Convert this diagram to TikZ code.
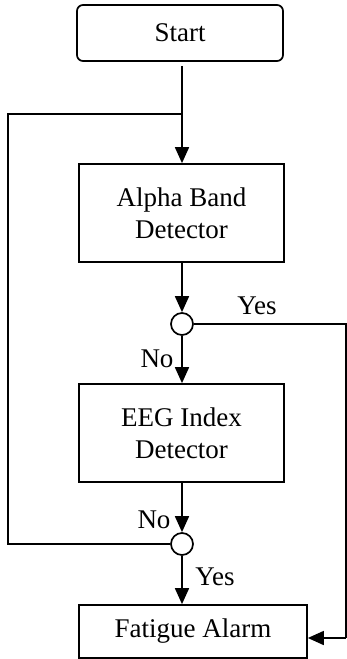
\documentclass[tikz,border=0pt]{standalone}
\usepackage{fontspec}
\setmainfont{Liberation Serif}
\usetikzlibrary{arrows.meta,positioning}
\begin{document}
\begin{tikzpicture}[x=1pt,y=-1pt,
  every node/.style={font=\fontsize{27}{32}\selectfont},
  box/.style={draw,line width=1.7pt,align=center,inner sep=0pt},
  junc/.style={draw,circle,line width=1.7pt,minimum size=22pt,inner sep=0pt,fill=white},
  conn/.style={line width=1.7pt},
  arr/.style={conn,-{Triangle[length=16pt,width=14pt]}},
  lbl/.style={inner sep=0pt}]
\useasboundingbox (0,0) rectangle (347,659);
\node[box,rounded corners=6pt,minimum width=206pt,minimum height=56pt] (start) at (180,33) {Start};
\node[box,minimum width=205pt,minimum height=98pt] (alpha) at (181.5,213) {Alpha Band\\Detector};
\node[junc] (c1) at (182,324) {};
\node[box,minimum width=205pt,minimum height=98pt] (eeg) at (181.5,433) {EEG Index\\Detector};
\node[junc] (c2) at (182,544) {};
\node[box,minimum width=228pt,minimum height=53pt] (alarm) at (193,631.5) {Fatigue Alarm};
\coordinate (j) at (182,114);
\coordinate (l1) at (8,114);
\coordinate (l2) at (8,544);
\coordinate (r1) at (346,324);
\coordinate (r2) at (346,638);
\draw[arr] ([yshift=-4pt]start.south -| j) -- (alpha.north -| j);
\draw[arr] (alpha.south -| c1) -- (c1.north);
\draw[arr] (c1.south) -- (eeg.north -| c1);
\draw[arr] (eeg.south -| c2) -- (c2.north);
\draw[arr] (c2.south) -- (alarm.north -| c2);
\draw[conn] (c2.west) -- (l2) -- (l1) -- (j);
\draw[conn] (c1.east) -- (r1) -- (r2);
\draw[arr] (r2) -- (r2 -| alarm.east);
\node[lbl] (y1) at (257,306) {Yes};
\node[lbl] (n1) at (157,359) {No};
\node[lbl] (n2) at (154,520) {No};
\node[lbl] (y2) at (215,577) {Yes};
\end{tikzpicture}
\end{document}
